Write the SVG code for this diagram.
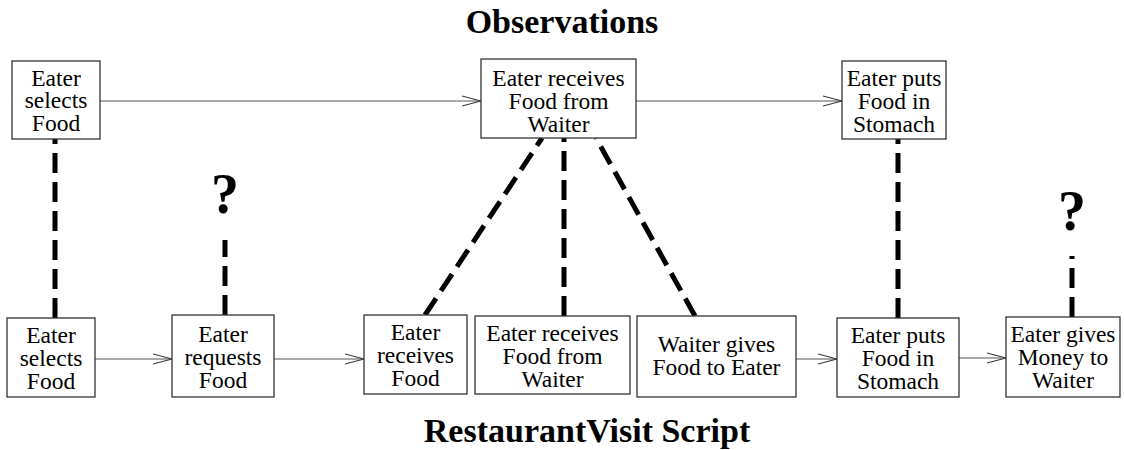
<svg xmlns="http://www.w3.org/2000/svg" width="1124" height="450" viewBox="0 0 1124 450">
  <defs>
    <marker id="openArrow" markerWidth="20" markerHeight="12" refX="19" refY="6" orient="auto" markerUnits="userSpaceOnUse">
      <path d="M0,1 L19,6 L0,11" fill="none" stroke="#333" stroke-width="1.2"/>
    </marker>
    <style>
      .box { fill: #fff; stroke: #333; stroke-width: 1.3; }
      .lbl { font-family: "Liberation Serif", "Times New Roman", serif; font-size: 23.5px; fill: #000; text-anchor: middle; }
      .title { font-family: "Liberation Serif", "Times New Roman", serif; font-size: 34px; font-weight: bold; fill: #000; text-anchor: middle; }
      .qm { font-family: "Liberation Serif", "Times New Roman", serif; font-size: 56px; font-weight: bold; fill: #000; text-anchor: middle; }
      .seq { fill: none; stroke: #555; stroke-width: 1.2; marker-end: url(#openArrow); }
      .match { fill: none; stroke: #000; stroke-width: 5; stroke-dasharray: 20 9; }
    </style>
  </defs>

  <rect width="1124" height="450" fill="#fff"/>

  <!-- headings -->
  <text class="title" x="562" y="33">Observations</text>
  <text class="title" x="587" y="442">RestaurantVisit Script</text>

  <!-- connectors: sequence arrows and dashed correspondences -->
  <g id="connectors">
    <line class="seq" x1="100" y1="101" x2="481" y2="101"/>
    <line class="seq" x1="636" y1="101" x2="842" y2="101"/>
    <line class="seq" x1="95" y1="359" x2="172" y2="359"/>
    <line class="seq" x1="274" y1="359" x2="364" y2="359"/>
    <line class="seq" x1="796" y1="359" x2="837" y2="359"/>
    <line class="seq" x1="959" y1="358" x2="1006" y2="358"/>

    <line class="match" x1="55" y1="318" x2="55" y2="139"/>
    <line class="match" x1="225" y1="315" x2="225" y2="240"/>
    <line class="match" x1="425" y1="315" x2="542" y2="138"/>
    <line class="match" x1="564" y1="316" x2="564" y2="138"/>
    <line class="match" x1="695" y1="316" x2="596" y2="138"/>
    <line class="match" x1="898" y1="318" x2="898" y2="139"/>
    <line class="match" x1="1072" y1="317" x2="1072" y2="256"/>
  </g>

  <!-- unmatched script steps -->
  <text class="qm" x="225" y="213">?</text>
  <text class="qm" x="1072" y="230">?</text>

  <!-- observation nodes -->
  <g id="obs-select">
    <rect class="box" x="12" y="61" width="88" height="78"/>
    <text class="lbl" x="56" y="86">Eater</text>
    <text class="lbl" x="56" y="108">selects</text>
    <text class="lbl" x="56" y="131">Food</text>
  </g>
  <g id="obs-receive">
    <rect class="box" x="481" y="59" width="155" height="79"/>
    <text class="lbl" x="558.5" y="86">Eater receives</text>
    <text class="lbl" x="558.5" y="109">Food from</text>
    <text class="lbl" x="558.5" y="132">Waiter</text>
  </g>
  <g id="obs-stomach">
    <rect class="box" x="842" y="61" width="104" height="78"/>
    <text class="lbl" x="894" y="86">Eater puts</text>
    <text class="lbl" x="894" y="109">Food in</text>
    <text class="lbl" x="894" y="132">Stomach</text>
  </g>

  <!-- script nodes -->
  <g id="scr-select">
    <rect class="box" x="7" y="318" width="88" height="79"/>
    <text class="lbl" x="51" y="343">Eater</text>
    <text class="lbl" x="51" y="366">selects</text>
    <text class="lbl" x="51" y="389">Food</text>
  </g>
  <g id="scr-request">
    <rect class="box" x="172" y="315" width="102" height="82"/>
    <text class="lbl" x="223" y="342">Eater</text>
    <text class="lbl" x="223" y="365">requests</text>
    <text class="lbl" x="223" y="388">Food</text>
  </g>
  <g id="scr-receive">
    <rect class="box" x="364" y="315" width="103" height="79"/>
    <text class="lbl" x="415.5" y="340">Eater</text>
    <text class="lbl" x="415.5" y="363">receives</text>
    <text class="lbl" x="415.5" y="386">Food</text>
  </g>
  <g id="scr-receive-from">
    <rect class="box" x="475" y="316" width="155" height="78"/>
    <text class="lbl" x="552.5" y="341">Eater receives</text>
    <text class="lbl" x="552.5" y="364">Food from</text>
    <text class="lbl" x="552.5" y="387">Waiter</text>
  </g>
  <g id="scr-give-food">
    <rect class="box" x="637" y="316" width="159" height="81"/>
    <text class="lbl" x="716.5" y="352">Waiter gives</text>
    <text class="lbl" x="716.5" y="375">Food to Eater</text>
  </g>
  <g id="scr-stomach">
    <rect class="box" x="837" y="318" width="122" height="79"/>
    <text class="lbl" x="898" y="343">Eater puts</text>
    <text class="lbl" x="898" y="366">Food in</text>
    <text class="lbl" x="898" y="389">Stomach</text>
  </g>
  <g id="scr-pay">
    <rect class="box" x="1006" y="317" width="114" height="80"/>
    <text class="lbl" x="1063" y="342">Eater gives</text>
    <text class="lbl" x="1063" y="365">Money to</text>
    <text class="lbl" x="1063" y="388">Waiter</text>
  </g>
</svg>
